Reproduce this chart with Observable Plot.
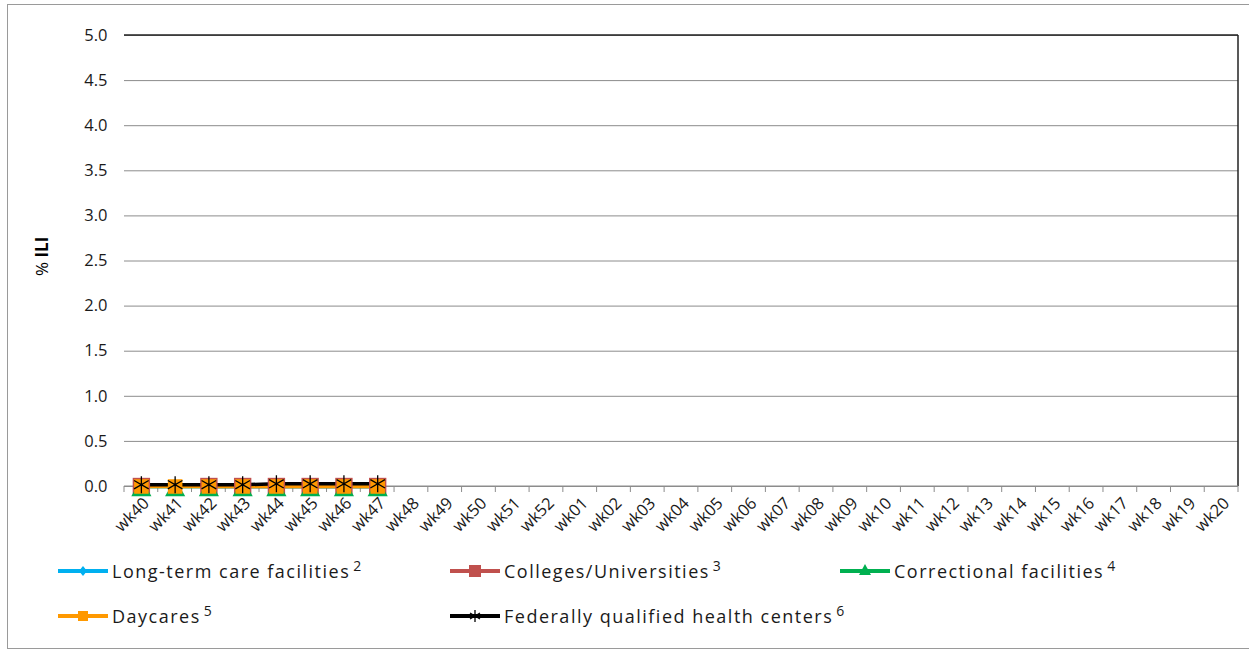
<!DOCTYPE html>
<html>
<head>
<meta charset="utf-8">
<script src="https://cdn.jsdelivr.net/npm/d3@7"></script>
<script src="https://cdn.jsdelivr.net/npm/@observablehq/plot@0.6"></script>
<style>
  html, body { margin: 0; padding: 0; background: #fff; }
  body { width: 1249px; height: 652px; position: relative; overflow: hidden; font-family: "Open Sans", Lato, sans-serif; }
  #frame { position: absolute; left: 7px; top: 4px; width: 1270px; height: 645px; border: 1.5px solid #9a9a9a; box-sizing: border-box; }
  #chart { position: absolute; left: 0; top: 0; }
  #ylab { position: absolute; left: 30px; top: 276px; transform: rotate(-90deg); transform-origin: left top; font-size: 17px; color: #000; white-space: nowrap; }
  .leg { position: absolute; display: flex; align-items: center; font-size: 18px; letter-spacing: 1.5px; color: #1a1a1a; white-space: nowrap; }
  .leg sup { font-size: 14px; letter-spacing: 0; position: relative; top: -6px; margin-left: 3px; }
  .leg svg { margin-right: 4px; }
</style>
</head>
<body>
<div id="frame"></div>
<div id="chart"></div>
<div id="ylab">% <b>ILI</b></div>
<div id="legend"></div>
<script>
const weeks = ["wk40","wk41","wk42","wk43","wk44","wk45","wk46","wk47","wk48","wk49","wk50","wk51","wk52",
  "wk01","wk02","wk03","wk04","wk05","wk06","wk07","wk08","wk09","wk10","wk11","wk12","wk13","wk14",
  "wk15","wk16","wk17","wk18","wk19","wk20"];
const reportedWeeks = ["wk40","wk41","wk42","wk43","wk44","wk45","wk46","wk47"];
const seriesNames = ["Long-term care facilities","Colleges/Universities","Correctional facilities","Daycares","Federally qualified health centers"];
const footnotes = ["2","3","4","5","6"];
const longTermCare = [0, 0, 0, 0, 0, 0, 0, 0];
const colleges = [0, null, 0, 0, 0, 0, 0, 0];
const correctional = [0, 0, 0, 0, 0, 0, 0, 0];
const daycares = [0, 0, 0, 0, 0, 0, 0, 0];
const fqhc = [0.02, 0.02, 0.02, 0.02, 0.03, 0.03, 0.03, 0.03];
const yTicks = [0, 0.5, 1, 1.5, 2, 2.5, 3, 3.5, 4, 4.5, 5];

const colors = ["#00b0f0", "#c0504d", "#00b050", "#ff9900", "#000000"];
const symbols = ["diamond2", "square", "triangle", "square", "asterisk"];
const markerR = [6, 9.8, 7.5, 8.2, 8];
const markerDy = [0, 0, 4, 0, 0];
const seriesValues = [longTermCare, colleges, correctional, daycares, fqhc];

const data = [];
seriesNames.forEach((s, i) => {
  reportedWeeks.forEach((w, j) => {
    data.push({series: s, idx: i, week: w, value: seriesValues[i][j]});
  });
});

const marks = [
  Plot.gridY(yTicks, {stroke: "#8c8c8c", strokeOpacity: 1, strokeWidth: 1}),
  Plot.axisY(yTicks, {tickSize: 0, tickPadding: 17, tickFormat: d3.format(".1f"), fontSize: 16.5, label: null, fill: "#1a1a1a"}),
  Plot.axisX(weeks, {tickSize: 0, tickRotate: -45, fontSize: 16.5, label: null, tickPadding: 14, dx: 5, fill: "#1a1a1a"}),
  Plot.ruleX([0], {frameAnchor: "left", stroke: "#8c8c8c"})
];
seriesNames.forEach((s, i) => {
  const d = data.filter(r => r.idx === i);
  marks.push(Plot.line(d, {x: "week", y: "value", stroke: colors[i], strokeWidth: 3.5, defined: r => r.value != null}));
});
seriesNames.forEach((s, i) => {
  const d = data.filter(r => r.idx === i && r.value != null);
  if (symbols[i] === "asterisk") {
    marks.push(Plot.dot(d, {x: "week", y: "value", symbol: "asterisk", r: markerR[i], stroke: colors[i], strokeWidth: 1.3}));
  } else {
    marks.push(Plot.dot(d, {x: "week", y: "value", symbol: symbols[i], r: markerR[i], dy: markerDy[i], fill: colors[i], stroke: "none"}));
  }
});

const chart = Plot.plot({
  width: 1249,
  height: 545,
  marginLeft: 124,
  marginRight: 11,
  marginTop: 35,
  marginBottom: 59,
  style: {fontFamily: "'Open Sans', Lato, sans-serif", background: "transparent", overflow: "visible"},
  x: {type: "point", domain: weeks, padding: 0.5, align: 0.5, round: false},
  y: {domain: [0, 5]},
  marks
});
document.getElementById("chart").appendChild(chart);

// Excel-style axis decorations: top/right border, bottom axis line with category boundary ticks
const svg = d3.select(chart);
const xs = chart.scale("x");
const step = (1238 - 124) / weeks.length;
const y0 = 486, yTop = 35;
const deco = svg.append("g");
deco.append("line").attr("x1", 124).attr("x2", 1238).attr("y1", yTop).attr("y2", yTop).attr("stroke", "#222").attr("stroke-width", 1.5);
deco.append("line").attr("x1", 1238).attr("x2", 1238).attr("y1", yTop).attr("y2", y0).attr("stroke", "#222").attr("stroke-width", 1.5);
deco.append("line").attr("x1", 124).attr("x2", 1238).attr("y1", y0).attr("y2", y0).attr("stroke", "#8c8c8c");
const bounds = weeks.map(w => xs.apply(w) - step / 2).concat([xs.apply(weeks[weeks.length - 1]) + step / 2]);
bounds.forEach(b => deco.append("line").attr("x1", b).attr("x2", b).attr("y1", y0).attr("y2", y0 + 6).attr("stroke", "#8c8c8c"));
svg.selectAll("g[aria-label='line'], g[aria-label='dot']").raise();

// Legend
const legendPos = [[58, 572], [450, 572], [840, 572], [58, 617], [450, 617]];
const legend = document.getElementById("legend");
seriesNames.forEach((s, i) => {
  const div = document.createElement("div");
  div.className = "leg";
  div.style.left = legendPos[i][0] + "px";
  div.style.top = (legendPos[i][1] - 13) + "px";
  const c = colors[i];
  let sym = "";
  if (symbols[i] === "diamond2") sym = `<path d="M25,7 L29,12 L25,17 L21,12 Z" fill="${c}"/>`;
  else if (symbols[i] === "square" && i === 1) sym = `<rect x="19" y="6" width="12" height="12" fill="${c}"/>`;
  else if (symbols[i] === "square") sym = `<rect x="20" y="7" width="10" height="10" fill="${c}"/>`;
  else if (symbols[i] === "triangle") sym = `<path d="M25,5 L31,16 L19,16 Z" fill="${c}"/>`;
  else sym = `<g stroke="${c}" stroke-width="1.3"><line x1="25" y1="6" x2="25" y2="18"/><line x1="20" y1="9" x2="30" y2="15"/><line x1="20" y1="15" x2="30" y2="9"/></g>`;
  div.innerHTML = `<svg width="50" height="24"><line x1="0" x2="50" y1="12" y2="12" stroke="${c}" stroke-width="4"/>${sym}</svg><span>${s}</span><sup>${footnotes[i]}</sup>`;
  legend.appendChild(div);
});
</script>
</body>
</html>
